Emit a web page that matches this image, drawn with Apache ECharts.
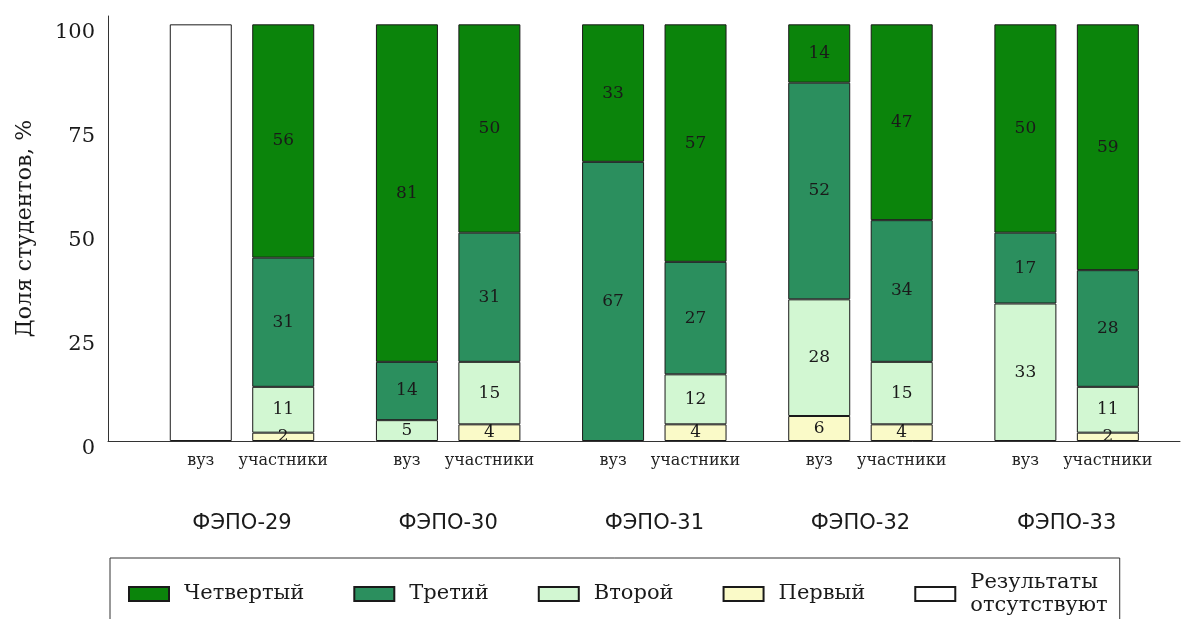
<!DOCTYPE html>
<html>
<head>
<meta charset="utf-8">
<script src="https://cdn.jsdelivr.net/npm/echarts@6/dist/echarts.min.js"></script>
<style>
html,body{margin:0;padding:0;background:#fff}
#chart{width:1194px;height:619px}
</style>
</head>
<body>
<div id="chart"></div>
<script>
// подписи
var groups = ['ФЭПО-29', 'ФЭПО-30', 'ФЭПО-31', 'ФЭПО-32', 'ФЭПО-33'];
var subs = ['вуз', 'участники'];
var yTicks = [0, 25, 50, 75, 100];

// доли по уровням, порядок столбцов: 29 вуз, 29 участники, 30 вуз, 30 участники ...
var first   = [null, 2, null, 4, null, 4, 6, 4, null, 2];
var second  = [null, 11, 5, 15, null, 12, 28, 15, 33, 11];
var third   = [null, 31, 14, 31, 67, 27, 52, 34, 17, 28];
var fourth  = [null, 56, 81, 50, 33, 57, 14, 47, 50, 59];
var missing = [100, null, null, null, null, null, null, null, null, null];

var levelNames  = ['Первый', 'Второй', 'Третий', 'Четвертый', 'Результаты\nотсутствуют'];
var levelData   = [first, second, third, fourth, missing];
var levelColors = ['#fafac8', '#d2f7d2', '#2b8f5e', '#0b840b', '#ffffff'];

/*********************** раскладка слотов оси X ***********************/
// ось делится на 52 узких слота, столбцы стоят через 4 (внутри пары) и 6 (между парами)
var slotCount = 52;
var barSlots = [];
var subLabels = [];
var groupLabels = [];
for (var i = 0; i < slotCount; i++) { subLabels.push(''); groupLabels.push(''); }
for (var g = 0; g < groups.length; g++) {
	for (var s = 0; s < subs.length; s++) {
		var idx = 4 + 10 * g + 4 * s;
		barSlots.push(idx);
		subLabels[idx] = subs[s];
	}
	groupLabels[6 + 10 * g] = groups[g];
}
var slotNames = [];
for (var i = 0; i < slotCount; i++) slotNames.push('s' + i);

function toSlots(values) {
	var arr = [];
	for (var i = 0; i < slotCount; i++) arr.push(null);
	for (var k = 0; k < values.length; k++) arr[barSlots[k]] = values[k];
	return arr;
}

var series = [];
for (var l = 0; l < levelNames.length; l++) {
	series.push({
		name: levelNames[l],
		type: 'bar',
		stack: 'all',
		barWidth: 62,
		xAxisIndex: 0,
		data: toSlots(levelData[l]),
		itemStyle: {
			color: levelColors[l],
			borderColor: '#1a1a1a',
			borderWidth: 1
		},
		label: {
			show: l < 4,
			position: 'inside',
			color: '#1a1a1a',
			fontFamily: 'DejaVu Serif',
			fontSize: 17,
			formatter: function (p) { return p.value == null ? '' : p.value; }
		},
		emphasis: { disabled: true },
		animation: false
	});
}

var chart = echarts.init(document.getElementById('chart'));
chart.setOption({
	animation: false,
	grid: { left: 108, right: 14, top: 16, bottom: 178 },
	legend: {
		data: ['Четвертый', 'Третий', 'Второй', 'Первый', 'Результаты\nотсутствуют'],
		icon: 'rect',
		left: 110,
		top: 558,
		itemWidth: 40,
		itemHeight: 14,
		itemGap: 49,
		padding: [13, 12, 40, 18],
		borderColor: '#333',
		borderWidth: 1,
		selectedMode: false,
		textStyle: {
			fontFamily: 'DejaVu Serif', fontSize: 21, color: '#1a1a1a',
			lineHeight: 23, padding: [0, 0, 0, 10]
		}
	},
	xAxis: [{
		type: 'category',
		data: slotNames,
		position: 'bottom',
		axisLine: { lineStyle: { color: '#333' } },
		axisTick: { show: false },
		axisLabel: {
			interval: 0,
			margin: 12,
			fontFamily: 'DejaVu Serif',
			fontSize: 16,
			color: '#222',
			formatter: function (v, i) { return subLabels[i]; }
		}
	}, {
		type: 'category',
		data: slotNames,
		position: 'bottom',
		axisLine: { show: false },
		axisTick: { show: false },
		axisLabel: {
			interval: 0,
			margin: 72,
			fontFamily: 'DejaVu Sans',
			fontSize: 21,
			color: '#1a1a1a',
			formatter: function (v, i) { return groupLabels[i]; }
		}
	}],
	yAxis: {
		type: 'value',
		min: 0,
		max: 102,
		interval: 25,
		name: 'Доля студентов, %',
		nameLocation: 'middle',
		nameGap: 72,
		nameTextStyle: { fontFamily: 'DejaVu Serif', fontSize: 22, color: '#1a1a1a' },
		axisLine: { show: true, lineStyle: { color: '#333' } },
		axisTick: { show: false },
		splitLine: { show: false },
		axisLabel: {
			margin: 13,
			fontFamily: 'DejaVu Serif',
			fontSize: 21,
			color: '#1a1a1a',
			verticalAlign: 'top',
			lineHeight: 16,
			formatter: function (v) { return yTicks.indexOf(v) >= 0 ? v : ''; }
		}
	},
	series: series
});
</script>
</body>
</html>
